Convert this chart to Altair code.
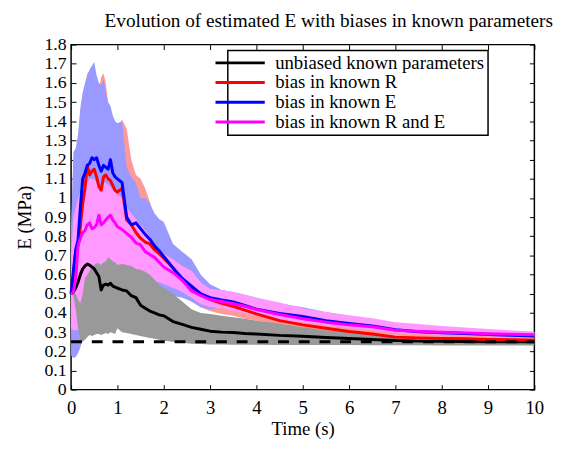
import altair as alt
import pandas as pd

FONT = "Times New Roman, Liberation Serif, serif"

# ---- data ----
T = [0, 0.05, 0.1, 0.15, 0.2, 0.25, 0.3, 0.35, 0.4, 0.45, 0.5, 0.55, 0.6, 0.65, 0.7, 0.75, 0.8, 0.85, 0.9, 0.95, 1.0,
     1.1, 1.2, 1.3, 1.4, 1.5, 1.6, 1.7, 1.8, 1.9, 2.0,
     2.2, 2.4, 2.6, 2.8, 3.0,
     3.25, 3.5, 3.75, 4.0,
     4.5, 5.0, 5.5, 6.0, 6.5, 7.0, 7.5, 8.0, 8.5, 9.0, 9.5, 10.0]

SERIES = ["unbiased known parameters", "bias in known R", "bias in known E", "bias in known R and E"]
LINE_COLORS = ["#000000", "#ff0000", "#0000ff", "#ff00ff"]
BAND_COLORS = ["#999999", "#ff9999", "#9999ff", "#ff99ff"]

unbiased_mean = [0.50, 0.51, 0.53, 0.56, 0.60, 0.63, 0.645, 0.655, 0.65, 0.64, 0.63, 0.61, 0.59, 0.52, 0.545, 0.55, 0.545, 0.555, 0.54, 0.535, 0.53,
                 0.52, 0.515, 0.49, 0.48, 0.44, 0.425, 0.41, 0.40, 0.39, 0.385,
                 0.355, 0.34, 0.325, 0.315, 0.305,
                 0.30, 0.298, 0.293, 0.29,
                 0.283, 0.279, 0.272, 0.267, 0.262, 0.256, 0.253, 0.252, 0.251, 0.25, 0.25, 0.25]
unbiased_lo = [0.50, 0.49, 0.42, 0.32, 0.26, 0.25, 0.26, 0.275, 0.285, 0.28, 0.285, 0.29, 0.29, 0.285, 0.29, 0.295, 0.29, 0.30, 0.295, 0.29, 0.32,
               0.30, 0.295, 0.29, 0.285, 0.28, 0.275, 0.27, 0.265, 0.26, 0.255,
               0.25, 0.245, 0.24, 0.238, 0.236,
               0.235, 0.234, 0.234, 0.234,
               0.233, 0.233, 0.233, 0.233, 0.232, 0.232, 0.231, 0.23, 0.23, 0.23, 0.23, 0.23]
unbiased_hi = [0.50, 0.51, 0.50, 0.47, 0.45, 0.50, 0.58, 0.60, 0.62, 0.64, 0.65, 0.66, 0.66, 0.65, 0.665, 0.67, 0.69, 0.68, 0.67, 0.665, 0.65,
               0.655, 0.65, 0.645, 0.63, 0.625, 0.615, 0.60, 0.575, 0.545, 0.53,
               0.50, 0.46, 0.42, 0.40, 0.395,
               0.385, 0.378, 0.37, 0.36,
               0.345, 0.325, 0.31, 0.30, 0.29, 0.28, 0.272, 0.268, 0.265, 0.263, 0.262, 0.26]

r_mean = [0.50, 0.60, 0.72, 0.75, 0.85, 0.97, 1.05, 1.17, 1.12, 1.14, 1.15, 1.11, 1.06, 1.04, 1.11, 1.12, 1.10, 1.09, 1.065, 1.04, 1.03,
          1.05, 0.885, 0.86, 0.82, 0.79, 0.77, 0.76, 0.73, 0.71, 0.685,
          0.635, 0.57, 0.53, 0.50, 0.47,
          0.45, 0.435, 0.415, 0.395,
          0.36, 0.338, 0.32, 0.303, 0.29, 0.274, 0.27, 0.267, 0.265, 0.262, 0.26, 0.258]
r_lo = [0.30, 0.29, 0.28, 0.28, 0.29, 0.30, 0.30, 0.30, 0.31, 0.31, 0.32, 0.32, 0.33, 0.33, 0.34, 0.34, 0.35, 0.35, 0.36, 0.36, 0.37,
        0.38, 0.40, 0.42, 0.44, 0.46, 0.48, 0.50, 0.53, 0.52, 0.51,
        0.51, 0.49, 0.46, 0.43, 0.41,
        0.395, 0.385, 0.37, 0.36,
        0.34, 0.32, 0.305, 0.295, 0.285, 0.275, 0.268, 0.265, 0.262, 0.26, 0.258, 0.256]
r_hi = [0.80, 1.20, 1.24, 1.30, 1.45, 1.52, 1.58, 1.65, 1.66, 1.66, 1.62, 1.60, 1.57, 1.63, 1.65, 1.60, 1.49, 1.45, 1.41, 1.38, 1.36,
        1.41, 1.36, 1.20, 1.12, 1.10, 1.05, 0.98, 0.90, 0.86, 0.83,
        0.74, 0.70, 0.65, 0.58, 0.53,
        0.50, 0.48, 0.465, 0.45,
        0.42, 0.39, 0.37, 0.35, 0.335, 0.32, 0.31, 0.305, 0.30, 0.296, 0.293, 0.29]

e_mean = [0.50, 0.62, 0.73, 0.78, 0.95, 1.10, 1.13, 1.17, 1.18, 1.21, 1.20, 1.21, 1.17, 1.14, 1.17, 1.16, 1.15, 1.20, 1.13, 1.11, 1.10,
          1.08, 0.90, 0.86, 0.87, 0.84, 0.81, 0.785, 0.75, 0.725, 0.695,
          0.635, 0.58, 0.54, 0.50, 0.48,
          0.468, 0.458, 0.44, 0.42,
          0.397, 0.382, 0.36, 0.345, 0.332, 0.312, 0.302, 0.297, 0.293, 0.288, 0.284, 0.28]
e_lo = [0.18, 0.165, 0.17, 0.19, 0.22, 0.27, 0.29, 0.30, 0.30, 0.31, 0.31, 0.32, 0.32, 0.33, 0.33, 0.34, 0.34, 0.35, 0.35, 0.36, 0.36,
        0.37, 0.39, 0.41, 0.43, 0.45, 0.47, 0.49, 0.51, 0.51, 0.50,
        0.49, 0.48, 0.46, 0.43, 0.42,
        0.43, 0.42, 0.41, 0.395,
        0.375, 0.36, 0.345, 0.33, 0.318, 0.303, 0.296, 0.291, 0.288, 0.285, 0.282, 0.279]
e_hi = [0.83, 1.24, 1.26, 1.33, 1.47, 1.55, 1.60, 1.64, 1.67, 1.69, 1.71, 1.64, 1.60, 1.59, 1.62, 1.55, 1.50, 1.48, 1.43, 1.40, 1.39,
        1.40, 1.16, 1.11, 1.08, 1.00, 1.00, 0.97, 0.92, 0.89, 0.875,
        0.76, 0.72, 0.68, 0.60, 0.55,
        0.52, 0.51, 0.495, 0.48,
        0.45, 0.43, 0.405, 0.385, 0.365, 0.345, 0.33, 0.322, 0.315, 0.308, 0.303, 0.298]

re_mean = [0.50, 0.51, 0.58, 0.75, 0.79, 0.82, 0.83, 0.86, 0.87, 0.84, 0.845, 0.86, 0.91, 0.86, 0.87, 0.885, 0.90, 0.91, 0.885, 0.87, 0.85,
           0.835, 0.815, 0.795, 0.765, 0.755, 0.72, 0.705, 0.69, 0.665, 0.64,
           0.61, 0.57, 0.515, 0.49, 0.47,
           0.46, 0.448, 0.435, 0.418,
           0.392, 0.37, 0.352, 0.338, 0.328, 0.31, 0.304, 0.299, 0.296, 0.292, 0.289, 0.286]
re_lo = [0.32, 0.31, 0.31, 0.31, 0.32, 0.32, 0.33, 0.33, 0.34, 0.34, 0.35, 0.35, 0.36, 0.36, 0.37, 0.37, 0.38, 0.38, 0.39, 0.40, 0.41,
         0.44, 0.48, 0.52, 0.54, 0.55, 0.56, 0.57, 0.565, 0.56, 0.55,
         0.53, 0.51, 0.48, 0.445, 0.43,
         0.425, 0.41, 0.40, 0.385,
         0.365, 0.35, 0.335, 0.322, 0.31, 0.296, 0.29, 0.285, 0.282, 0.279, 0.276, 0.273]
re_hi = [0.70, 0.90, 0.95, 1.00, 1.03, 1.05, 1.06, 1.08, 1.10, 1.10, 1.10, 1.08, 1.08, 1.06, 1.08, 1.08, 1.07, 1.06, 1.04, 1.03, 1.02,
         1.00, 0.95, 0.92, 0.89, 0.86, 0.83, 0.80, 0.76, 0.73, 0.71,
         0.68, 0.645, 0.62, 0.56, 0.525,
         0.52, 0.51, 0.495, 0.48,
         0.455, 0.425, 0.405, 0.388, 0.372, 0.352, 0.342, 0.332, 0.324, 0.316, 0.309, 0.303]

TRUE_E = 0.25
X_TICKS = [0, 1, 2, 3, 4, 5, 6, 7, 8, 9, 10]
Y_TICKS = [0, 0.1, 0.2, 0.3, 0.4, 0.5, 0.6, 0.7, 0.8, 0.9, 1.0, 1.1, 1.2, 1.3, 1.4, 1.5, 1.6, 1.7, 1.8]

# ---- build table ----
frames = []
for name, m, lo, hi in zip(SERIES,
                           [unbiased_mean, r_mean, e_mean, re_mean],
                           [unbiased_lo, r_lo, e_lo, re_lo],
                           [unbiased_hi, r_hi, e_hi, re_hi]):
    frames.append(pd.DataFrame({"t": T, "series": name, "mean": m, "lo": lo, "hi": hi}))
df = pd.concat(frames, ignore_index=True)
ref_df = pd.DataFrame({"t": [X_TICKS[0], X_TICKS[-1]], "v": [TRUE_E, TRUE_E]})

xs = alt.Scale(domain=[0, 10], nice=False, zero=False)
ys = alt.Scale(domain=[0, 1.8], nice=False, zero=False)

tick_common = dict(domain=False, grid=False, tickSize=5, tickColor="black", tickWidth=1, offset=-5)

x_bottom = alt.Axis(orient="bottom", values=X_TICKS, format="d", labelPadding=9, labelFont=FONT,
                    labelFontSize=19, labelColor="black", labelFlush=False, labelOverlap=False,
                    title="Time (s)", titleFont=FONT, titleFontSize=19, titleFontWeight="normal",
                    titleColor="black", titlePadding=3, **tick_common)
y_left = alt.Axis(orient="left", values=Y_TICKS, format=".2~f", labelPadding=5, labelFont=FONT,
                  labelFontSize=18, labelColor="black", labelFlush=False, labelOverlap=False,
                  title="E (MPa)", titleFont=FONT, titleFontSize=19, titleFontWeight="normal",
                  titleColor="black", titlePadding=10, **tick_common)
x_top = alt.Axis(orient="top", values=X_TICKS, labels=False, title=None, **tick_common)
y_right = alt.Axis(orient="right", values=Y_TICKS, labels=False, title=None, **tick_common)

color_scale = alt.Scale(domain=SERIES, range=LINE_COLORS)
legend = alt.Legend(orient="none", legendX=159, legendY=6, title=None,
                    symbolType="M-7,0M-5,0L5,0", symbolSize=100, symbolStrokeWidth=3,
                    labelFont=FONT, labelFontSize=19, labelColor="black", labelOffset=26,
                    labelLimit=500, rowPadding=0, padding=3, strokeColor="black", fillColor="white")

base = alt.Chart(df)

def band(idx, first=False):
    return base.transform_filter(alt.datum.series == SERIES[idx]).mark_area(
        color=BAND_COLORS[idx], opacity=1, strokeWidth=0).encode(
        x=alt.X("t:Q", scale=xs, axis=x_bottom if first else None),
        y=alt.Y("lo:Q", scale=ys, axis=y_left if first else None),
        y2="hi:Q")

def line(idx):
    return base.transform_filter(alt.datum.series == SERIES[idx]).mark_line(
        strokeWidth=3, strokeJoin="round").encode(
        x=alt.X("t:Q", scale=xs, axis=None),
        y=alt.Y("mean:Q", scale=ys, axis=None),
        color=alt.Color("series:N", scale=color_scale, legend=legend))

dashed = alt.Chart(ref_df).mark_line(color="black", strokeWidth=3, strokeDash=[11, 10]).encode(
    x=alt.X("t:Q", scale=xs, axis=x_top),
    y=alt.Y("v:Q", scale=ys, axis=y_right))

chart = alt.layer(
    band(1, first=True), band(2), band(3), band(0),
    line(0), line(1), line(2), line(3),
    dashed,
).resolve_axis(x="independent", y="independent").properties(
    width=470, height=350,
    title=alt.TitleParams("Evolution of estimated E with biases in known parameters",
                          font=FONT, fontSize=19.5, fontWeight="normal", color="black",
                          anchor="start", frame="group", dx=34, offset=4),
    autosize=alt.AutoSizeParams(type="none"),
    padding={"left": 64, "top": 34, "right": 26, "bottom": 52},
).configure(font=FONT).configure_view(stroke="black", strokeWidth=1.5).configure_axis(
    labelFont=FONT, titleFont=FONT).configure_legend(strokeWidth=1.5, labelFont=FONT)

chart.save("out.html", embed_options={"renderer": "svg", "actions": False})
